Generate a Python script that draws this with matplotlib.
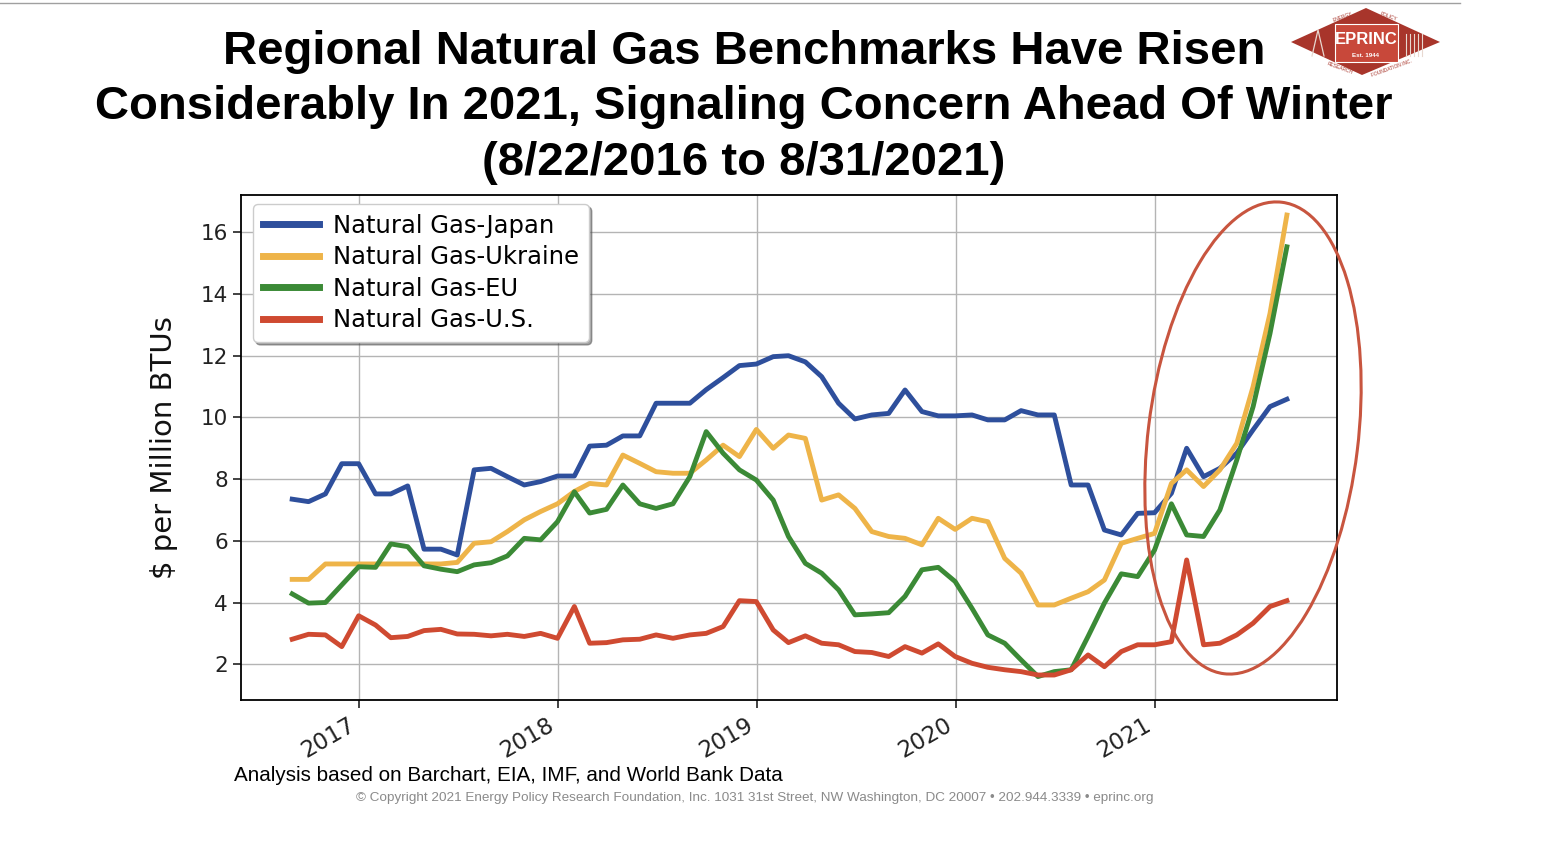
import numpy as np
import pandas as pd
import matplotlib
matplotlib.use('Agg')
import matplotlib.pyplot as plt
import matplotlib.dates as mdates
from matplotlib.patches import Ellipse, Polygon, Rectangle

# monthly observations, Aug 2016 .. Aug 2021
dates = pd.date_range('2016-08-31', '2021-08-31', freq='ME')

japan = [7.35, 7.27, 7.52, 8.50, 8.50, 7.52, 7.52, 7.78, 5.73, 5.73,
         5.54, 8.30, 8.35, 8.08, 7.81, 7.92, 8.10, 8.10, 9.07, 9.10,
         9.40, 9.40, 10.46, 10.46, 10.46, 10.90, 11.29, 11.68, 11.73, 11.97,
         12.00, 11.80, 11.32, 10.46, 9.95, 10.08, 10.13, 10.89, 10.19, 10.05,
         10.05, 10.08, 9.92, 9.92, 10.22, 10.08, 10.08, 7.81, 7.81, 6.35,
         6.19, 6.89, 6.91, 7.54, 9.00, 8.08, 8.35, 8.84, 9.60, 10.35,
         10.59]
ukraine = [4.75, 4.75, 5.25, 5.25, 5.25, 5.25, 5.25, 5.25, 5.25, 5.25,
           5.30, 5.92, 5.97, 6.30, 6.68, 6.95, 7.20, 7.60, 7.86, 7.81,
           8.78, 8.51, 8.24, 8.19, 8.19, 8.62, 9.10, 8.73, 9.61, 9.00,
           9.43, 9.32, 7.32, 7.49, 7.05, 6.30, 6.14, 6.08, 5.87, 6.73,
           6.37, 6.73, 6.62, 5.43, 4.95, 3.92, 3.92, 4.14, 4.35, 4.73,
           5.92, 6.08, 6.24, 7.86, 8.30, 7.76, 8.30, 9.16, 11.00, 13.37,
           16.56]
eu = [4.28, 3.98, 4.00, 4.57, 5.16, 5.14, 5.90, 5.81, 5.19, 5.08,
      5.00, 5.22, 5.29, 5.51, 6.08, 6.03, 6.62, 7.59, 6.90, 7.02,
      7.81, 7.20, 7.05, 7.20, 8.08, 9.54, 8.84, 8.30, 7.97, 7.32,
      6.14, 5.27, 4.95, 4.41, 3.60, 3.63, 3.67, 4.20, 5.06, 5.14,
      4.68, 3.81, 2.95, 2.68, 2.14, 1.60, 1.76, 1.82, 2.90, 3.98,
      4.93, 4.84, 5.70, 7.20, 6.19, 6.14, 7.00, 8.62, 10.35, 12.72,
      15.53]
us = [2.81, 2.97, 2.95, 2.57, 3.57, 3.27, 2.86, 2.90, 3.09, 3.13,
      2.98, 2.97, 2.92, 2.97, 2.90, 3.00, 2.84, 3.87, 2.68, 2.70,
      2.79, 2.81, 2.95, 2.84, 2.95, 3.00, 3.22, 4.06, 4.03, 3.11,
      2.70, 2.92, 2.68, 2.63, 2.41, 2.38, 2.25, 2.57, 2.36, 2.66,
      2.25, 2.03, 1.90, 1.82, 1.76, 1.65, 1.65, 1.82, 2.30, 1.92,
      2.41, 2.63, 2.63, 2.73, 5.38, 2.63, 2.68, 2.95, 3.33, 3.87,
      4.06]

series = [
    ('Natural Gas-Japan', japan, '#2e4f9c'),
    ('Natural Gas-Ukraine', ukraine, '#eeb449'),
    ('Natural Gas-EU', eu, '#3b8a36'),
    ('Natural Gas-U.S.', us, '#cf4a31'),
]

W, H = 1544, 859
fig = plt.figure(figsize=(W / 100, H / 100), dpi=100)
fig.patch.set_facecolor('white')

ax = fig.add_axes([241 / W, (H - 700) / H, (1337 - 241) / W, (700 - 195) / H])
for label, vals, col in series:
    ax.plot(dates, vals, color=col, linewidth=3.5, label=label, zorder=3)

ax.set_xlim(pd.Timestamp('2016-05-29'), pd.Timestamp('2021-12-01'))
ax.set_ylim(0.84, 17.21)
ax.set_yticks(np.arange(2, 17, 2))
ax.xaxis.set_major_locator(mdates.YearLocator())
ax.xaxis.set_major_formatter(mdates.DateFormatter('%Y'))
for lab in ax.get_xticklabels():
    lab.set_rotation(30)
    lab.set_ha('right')
ax.grid(True, color='#b4b4b4', linewidth=1.0, zorder=0)
ax.set_axisbelow(True)
for sp in ax.spines.values():
    sp.set_linewidth(1.3)
    sp.set_color('black')
ax.tick_params(axis='both', direction='out', length=6, width=1.2,
               labelsize=15.5, colors='#222222')
ax.tick_params(axis='x', labelsize=16.5)
ax.set_ylabel('\\$ per Million BTUs', fontsize=21, color='#111111', labelpad=16)

leg = ax.legend(loc='upper left', bbox_to_anchor=(0.011, 0.982), borderaxespad=0,
                fontsize=17.5, handlelength=2.3, handletextpad=0.6, labelspacing=0.31,
                shadow=True, framealpha=1, edgecolor='#cccccc', borderpad=0.4)
for ln in leg.get_lines():
    ln.set_linewidth(5)

# overlay in pixel coordinates for decorations
ov = fig.add_axes([0, 0, 1, 1])
ov.set_xlim(0, W)
ov.set_ylim(H, 0)
ov.axis('off')
ov.patch.set_alpha(0)

ov.plot([0, 1460], [3, 3], color='#a0a0a0', linewidth=1)

ov.add_patch(Ellipse((1253, 438), 210, 475, angle=7, fill=False,
                     edgecolor='#c8553f', linewidth=2.2))

# logo
ov.add_patch(Polygon([(1291, 42), (1366, 8), (1440, 42), (1362, 75)],
                     closed=True, facecolor='#a8352b', edgecolor='none'))
ov.add_patch(Rectangle((1335, 24), 63, 38, facecolor='#c8483a', edgecolor='white',
                       linewidth=0.8))
ov.text(1366, 44, 'EPRINC', color='white', fontsize=12, fontweight='bold',
        family='Liberation Sans', ha='center', va='baseline')
ov.text(1366, 57, 'Est. 1944', color='white', fontsize=4.5, fontweight='bold',
        family='Liberation Sans', ha='center', va='baseline')
ov.text(1343, 17, 'ENERGY', color='#a8352b', fontsize=3.5, rotation=20,
        ha='center', va='center', family='Liberation Sans')
ov.text(1388, 17, 'POLICY', color='#a8352b', fontsize=3.5, rotation=-20,
        ha='center', va='center', family='Liberation Sans')
ov.text(1340, 68, 'RESEARCH', color='#a8352b', fontsize=3.5, rotation=-20,
        ha='center', va='center', family='Liberation Sans')
ov.text(1392, 68, 'FOUNDATION INC.', color='#a8352b', fontsize=3.5, rotation=20,
        ha='center', va='center', family='Liberation Sans')
for k in range(5):
    ov.plot([1406 + k * 4, 1406 + k * 4], [34, 56], color='#e8d8d0', linewidth=0.8)
ov.plot([1312, 1318, 1324], [56, 30, 56], color='#e8d8d0', linewidth=0.9)

# titles
title_lines = ['Regional Natural Gas Benchmarks Have Risen',
               'Considerably In 2021, Signaling Concern Ahead Of Winter',
               '(8/22/2016 to 8/31/2021)']
for txt, yb in zip(title_lines, [64, 119, 175]):
    ov.text(744, yb, txt, fontsize=34, fontweight='bold', family='Liberation Sans',
            ha='center', va='baseline', color='black')

ov.text(234, 781, 'Analysis based on Barchart, EIA, IMF, and World Bank Data',
        fontsize=14.9, family='Liberation Sans', ha='left', va='baseline', color='black')
ov.text(755, 801, '\u00a9 Copyright 2021 Energy Policy Research Foundation, Inc. 1031 31st Street, '
        'NW Washington, DC 20007 \u2022 202.944.3339 \u2022 eprinc.org',
        fontsize=9.7, family='Liberation Sans', ha='center', va='baseline', color='#8a8a8a')

fig.savefig('out.png', dpi=100)
